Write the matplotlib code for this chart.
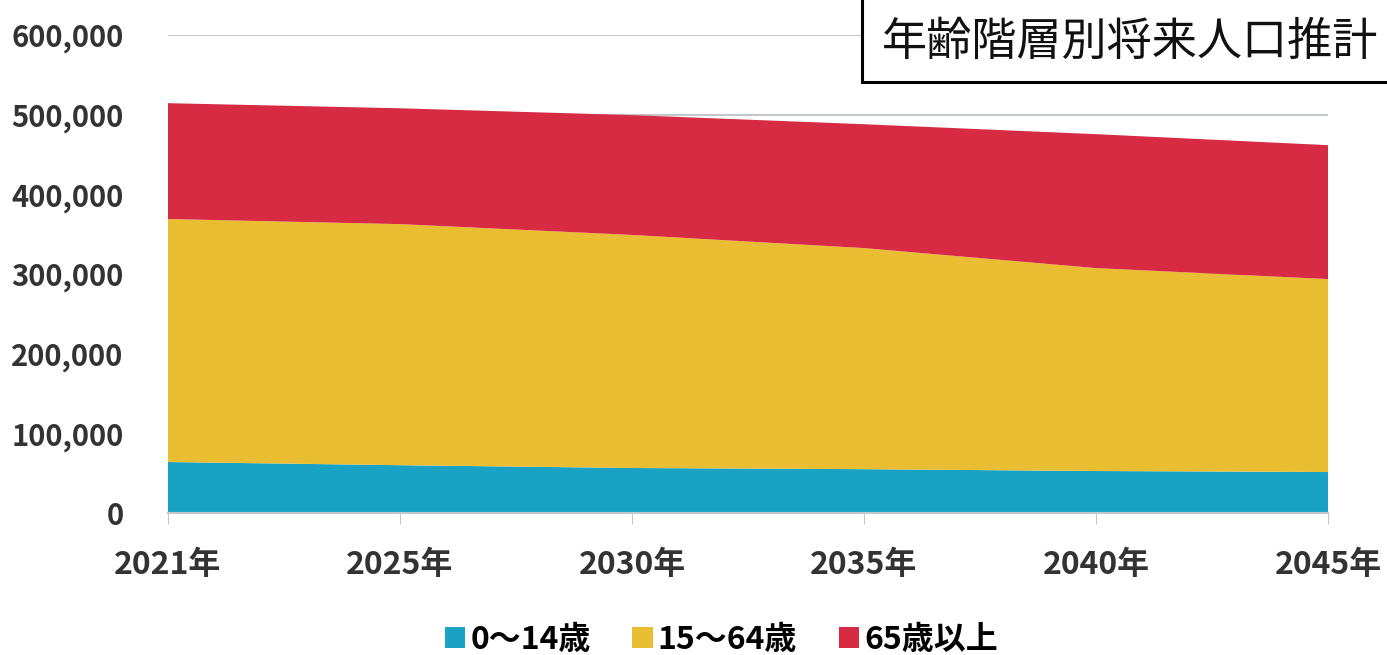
import matplotlib.pyplot as plt
from matplotlib.ticker import FuncFormatter
from matplotlib.patches import Patch, Rectangle

plt.rcParams['font.family'] = ['Noto Sans CJK JP', 'DejaVu Sans']

# Data
years = ["2021年", "2025年", "2030年", "2035年", "2040年", "2045年"]
age_0_14 = [64000, 60000, 56500, 55000, 52700, 51400]
age_15_64 = [305000, 302600, 292500, 277500, 254700, 242200]
age_65_plus = [145400, 145400, 150400, 155500, 168100, 168100]
series_labels = ["0～14歳", "15～64歳", "65歳以上"]
colors = ["#1aa2c4", "#e9be33", "#d72a43"]

fig = plt.figure(figsize=(13.87, 6.55), dpi=100)
ax = fig.add_axes([0.1211, 0.2168, 0.9575 - 0.1211, 0.9466 - 0.2168])

x = list(range(len(years)))
ax.stackplot(x, age_0_14, age_15_64, age_65_plus, colors=colors, linewidth=0)

ax.set_xlim(0, len(years) - 1)
ax.set_ylim(0, 600000)
ax.set_yticks(range(0, 600001, 100000))
ax.yaxis.set_major_formatter(FuncFormatter(lambda v, p: f"{int(v):,}"))
ax.grid(axis='y', color='#c4c7ca', linewidth=1.5)
ax.set_axisbelow(True)

for s in ["top", "right", "left"]:
    ax.spines[s].set_visible(False)
ax.spines["bottom"].set_color('#c4c7ca')
ax.spines["bottom"].set_linewidth(1.5)

ax.set_xticks(x)
ax.set_xticklabels(years, fontsize=23, fontweight='bold', color='#333333')
ax.tick_params(axis='x', length=8, color='#c4c7ca', pad=18)
ax.tick_params(axis='y', length=0, pad=32, labelsize=21, labelcolor='#333333')
for lbl in ax.get_yticklabels():
    lbl.set_fontweight('bold')

# title box in the top right, running off the edge
fig.add_artist(Rectangle((0.6215, 0.8748), 0.5, 0.2, transform=fig.transFigure,
                         facecolor='white', edgecolor='black', linewidth=2.2, zorder=5))
fig.text(0.636, 0.936, "年齢階層別将来人口推計", fontsize=32.5, color='#111111',
         ha='left', va='center', zorder=6)

handles = [Patch(facecolor=c) for c in colors]
fig.legend(handles, series_labels, loc='lower center', bbox_to_anchor=(0.52, -0.045),
           ncol=3, frameon=False, handlelength=0.65, handleheight=0.65,
           handletextpad=0.15, columnspacing=1.3,
           prop={'weight': 'bold', 'size': 23})

fig.savefig("out.png", dpi=100)
